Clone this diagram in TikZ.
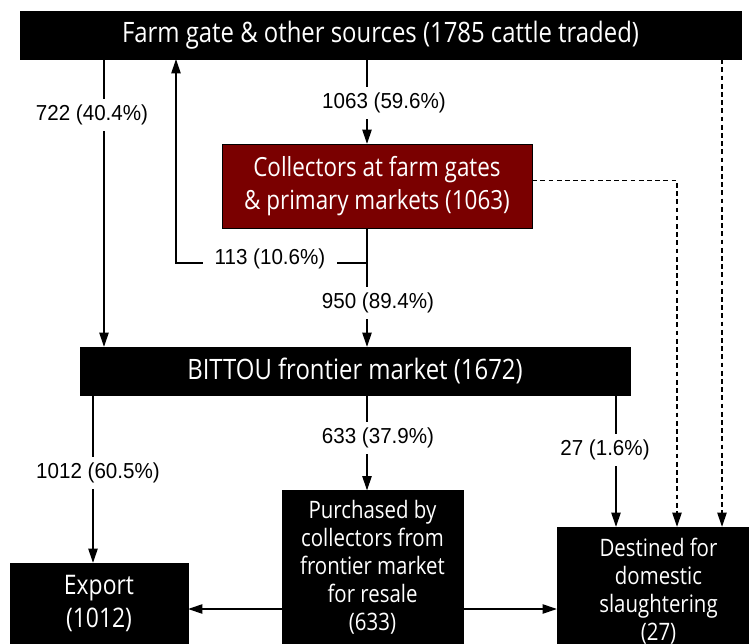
\documentclass[tikz,border=0pt]{standalone}
\usepackage{fontspec}
\setmainfont[FakeStretch=0.95]{Liberation Sans}
\newfontfamily\boxfont[FakeStretch=0.85]{Open Sans}
\usetikzlibrary{positioning, arrows.meta}

\definecolor{maroonbox}{RGB}{122,0,0}

\begin{document}
\begin{tikzpicture}[
        x=0.03cm, y=-0.03cm,
        every node/.style={
            align=center,
            inner sep=0pt
        },
        blackbox/.style={
            rectangle,
            fill=black,
            draw=black,
            text=white,
            font=\boxfont\fontsize{20.5}{24}\selectfont
        },
        bigbox/.style={
            blackbox,
            font=\boxfont\fontsize{24}{28}\selectfont
        },
        redbox/.style={
            blackbox,
            fill=maroonbox,
            font=\boxfont\fontsize{22.5}{28}\selectfont
        },
        flowlabel/.style={
            fill=white,
            inner xsep=3pt,
            inner ysep=5pt,
            font=\fontsize{18.5}{21}\selectfont
        },
        flow/.style={
            -{Triangle[length=12pt,width=8pt]},
            line width=0.9pt
        },
        dflow/.style={
            flow,
            dash pattern=on 4pt off 3pt
        }
    ]

    \useasboundingbox (0,0) rectangle (749,644);

    % boxes
    \node[bigbox, minimum width=21.63cm, minimum height=1.44cm] (farm) at (380.5,35)
        {Farm gate \& other sources (1785 cattle traded)};
    \node[redbox, minimum width=9.3cm, minimum height=2.52cm] (collectors) at (377,186)
        {Collectors at farm gates\\ \& primary markets (1063)};
    \node[bigbox, minimum width=16.5cm, minimum height=1.44cm] (bittou) at (355,371)
        {BITTOU frontier market (1672)};
    \node[blackbox, minimum width=5.43cm, minimum height=4.62cm] (purchased) at (372.5,567.5)
        {Purchased by\\ collectors from\\ frontier market\\ for resale\\ (633)};
    \node[blackbox, font=\boxfont\fontsize{23}{28}\selectfont,
          minimum width=5.34cm, minimum height=2.43cm] (export) at (99,603.5)
        {Export\\ (1012)};
    \node[blackbox, minimum width=6.09cm, minimum height=3.84cm] (destined) at (658.5,591)
        {Destined for\\ domestic\\ slaughtering\\ (27)};

    % columns of the connectors
    \coordinate (colA) at (104,0);
    \coordinate (colB) at (176,0);
    \coordinate (colM) at (367,0);
    \coordinate (colC) at (93,0);
    \coordinate (colD) at (616,0);
    \coordinate (colE) at (677,0);
    \coordinate (colF) at (722,0);
    \coordinate (split) at (367,263);
    \coordinate (rowH) at (0,609);

    % flows
    \draw[flow] (farm.south -| colA) -- (bittou.north -| colA);
    \draw[flow] (farm.south -| colM) -- (collectors.north -| colM);
    \draw[flow] (collectors.south -| colM) -- (bittou.north -| colM);
    \draw[flow] (split) -- (split -| colB) -- (farm.south -| colB);
    \draw[dflow] ([yshift=5pt]collectors.east) -| (destined.north -| colE);
    \draw[dflow] (farm.south -| colF) -- (destined.north -| colF);
    \draw[flow] (bittou.south -| colC) -- (export.north -| colC);
    \draw[flow] (bittou.south -| colM) -- (purchased.north -| colM);
    \draw[flow] (bittou.south -| colD) -- (destined.north -| colD);
    \draw[flow] (purchased.west |- rowH) -- (export.east |- rowH);
    \draw[flow] (purchased.east |- rowH) -- (destined.west |- rowH);

    % labels
    \node[flowlabel] (l722) at (92,115) {722 (40.4\%)};
    \node[flowlabel] (l1063) at (384,103) {1063 (59.6\%)};
    \node[flowlabel, inner xsep=10pt] (l113) at (270,259) {113 (10.6\%)};
    \node[flowlabel] (l950) at (378,303) {950 (89.4\%)};
    \node[flowlabel] (l1012) at (98,473) {1012 (60.5\%)};
    \node[flowlabel] (l633) at (378,438) {633 (37.9\%)};
    \node[flowlabel] (l27) at (605,450) {27 (1.6\%)};

\end{tikzpicture}
\end{document}
